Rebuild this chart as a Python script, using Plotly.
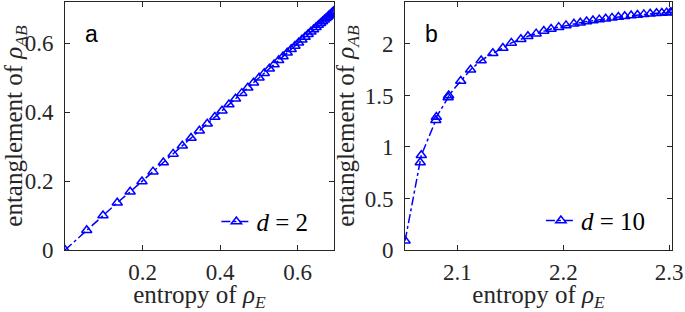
import plotly.graph_objects as go

# Panel a (d = 2)
entropy_a = [0.0, 0.0560, 0.0980, 0.1347, 0.1680, 0.1985, 0.2270, 0.2536, 0.2788, 0.3025,
             0.3251, 0.3465, 0.3669, 0.3864, 0.4049, 0.4227, 0.4397, 0.4559, 0.4714, 0.4862,
             0.5004, 0.5139, 0.5269, 0.5392, 0.5511, 0.5623, 0.5731, 0.5833, 0.5930, 0.6022,
             0.6109, 0.6191, 0.6269, 0.6342, 0.6410, 0.6474, 0.6534, 0.6590, 0.6641, 0.6687,
             0.6730, 0.6769, 0.6803, 0.6833, 0.6859, 0.6881, 0.6899, 0.6914, 0.6923, 0.6929, 0.6931]
ent_a = [0.0, 0.0575, 0.1000, 0.1370, 0.1690, 0.1990, 0.2275, 0.2540, 0.2790, 0.3025,
         0.3250, 0.3462, 0.3665, 0.3860, 0.4045, 0.4222, 0.4392, 0.4554, 0.4709, 0.4857,
         0.4999, 0.5134, 0.5264, 0.5387, 0.5506, 0.5618, 0.5726, 0.5828, 0.5925, 0.6017,
         0.6104, 0.6186, 0.6264, 0.6337, 0.6405, 0.6469, 0.6529, 0.6585, 0.6636, 0.6682,
         0.6725, 0.6764, 0.6798, 0.6828, 0.6854, 0.6876, 0.6894, 0.6909, 0.6918, 0.6924, 0.6926]

# Panel b (d = 10)
entropy_b = [2.0507, 2.0650, 2.0660, 2.0797, 2.0802, 2.0913, 2.0918, 2.1032, 2.1125, 2.1225,
             2.1335, 2.1430, 2.1510, 2.1600, 2.1666, 2.1744, 2.1816, 2.1885, 2.1957, 2.2026,
             2.2100, 2.2160, 2.2220, 2.2280, 2.2340, 2.2400, 2.2460, 2.2520, 2.2580, 2.2640,
             2.2700, 2.2760, 2.2820, 2.2880, 2.2930, 2.2975, 2.3010, 2.3026]
ent_b = [0.09, 0.85, 0.92, 1.26, 1.29, 1.48, 1.50, 1.64, 1.75, 1.84,
         1.91, 1.96, 2.01, 2.045, 2.075, 2.10, 2.125, 2.145, 2.163, 2.18,
         2.195, 2.206, 2.217, 2.227, 2.236, 2.245, 2.253, 2.261, 2.268, 2.275,
         2.281, 2.287, 2.292, 2.297, 2.301, 2.304, 2.306, 2.307]

xticks_a = [0.2, 0.4, 0.6]
xlabels_a = ["0.2", "0.4", "0.6"]
yticks_a = [0, 0.2, 0.4, 0.6]
ylabels_a = ["0", "0.2", "0.4", "0.6"]
xticks_b = [2.1, 2.2, 2.3]
xlabels_b = ["2.1", "2.2", "2.3"]
yticks_b = [0, 0.5, 1, 1.5, 2]
ylabels_b = ["0", "0.5", "1", "1.5", "2"]

BLUE = "#0000ff"
AX = "#262626"
SERIF = "Liberation Serif"

fig = go.Figure()
common = dict(mode="lines+markers", showlegend=True,
              line=dict(color=BLUE, width=1.5, dash="dashdot"),
              marker=dict(symbol="triangle-up-open", size=9, color=BLUE, line=dict(width=1.5, color=BLUE)))
fig.add_trace(go.Scatter(x=entropy_a, y=ent_a, name="<i>d</i> = 2", xaxis="x", yaxis="y",
                         legend="legend", **common))
fig.add_trace(go.Scatter(x=entropy_b, y=ent_b, name="<i>d</i> = 10", xaxis="x2", yaxis="y2",
                         legend="legend2", **common))

ax_common = dict(showline=True, linecolor=AX, linewidth=1, mirror="ticks", ticks="inside",
                 ticklen=5, tickcolor=AX, tickwidth=1, showgrid=False, zeroline=False,
                 ticklabeloverflow="allow",
                 tickfont=dict(family=SERIF, size=23, color=AX),
                 title_font=dict(family=SERIF, size=25, color=AX))

XT = "entropy of <i>ρ</i><sub><i>E</i></sub>"
YT = "entanglement of <i>ρ</i><sub><i>AB</i></sub>"

fig.update_layout(
    width=685, height=312,
    margin=dict(l=65, r=10, t=1, b=62),
    plot_bgcolor="white", paper_bgcolor="white",
    showlegend=True,
    xaxis=dict(domain=[0, 0.4428], range=[0, 0.6931], tickvals=xticks_a, ticktext=xlabels_a,
               title=dict(text=XT, standoff=0), ticklabelstandoff=1, **ax_common),
    yaxis=dict(range=[0, 0.72], tickvals=yticks_a, ticktext=ylabels_a, ticklabelstandoff=6,
               title=dict(text=YT, standoff=3), **ax_common),
    xaxis2=dict(domain=[0.5603, 1], range=[2.0507, 2.3026], tickvals=xticks_b, ticktext=xlabels_b,
                anchor="y2", ticklabelstandoff=1,
                title=dict(text=XT, standoff=0), **ax_common),
    yaxis2=dict(range=[0, 2.407], tickvals=yticks_b, ticktext=ylabels_b, anchor="x2", ticklabelstandoff=6,
                title=dict(text=YT, standoff=3), **ax_common),
    legend=dict(x=0.2494, y=0.1137, xanchor="left", yanchor="middle", bgcolor="rgba(0,0,0,0)",
                font=dict(family=SERIF, size=25, color="#000000")),
    legend2=dict(x=0.784, y=0.118, xanchor="left", yanchor="middle", bgcolor="rgba(0,0,0,0)",
                 font=dict(family=SERIF, size=25, color="#000000")),
    annotations=[
        dict(text="a", x=0.044, y=0.87, xref="paper", yref="paper", showarrow=False,
             xanchor="center", yanchor="middle", font=dict(family="Liberation Sans", size=23, color="black")),
        dict(text="b", x=0.604, y=0.87, xref="paper", yref="paper", showarrow=False,
             xanchor="center", yanchor="middle", font=dict(family="Liberation Sans", size=23, color="black")),
    ],
)

fig.write_html("out.html", config={"displayModeBar": False},
               post_script="document.body.style.margin='0px';")
